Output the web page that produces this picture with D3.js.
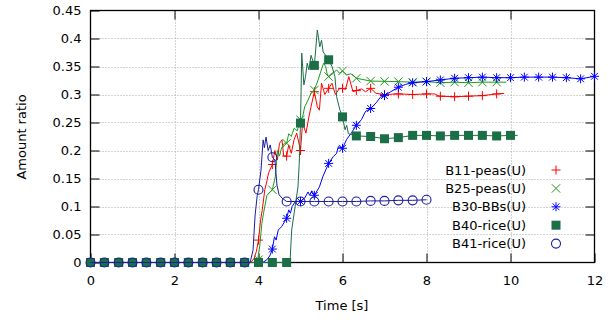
<!DOCTYPE html>
<html><head><meta charset="utf-8">
<script src="https://cdn.jsdelivr.net/npm/d3@7"></script>
<style>body{margin:0;background:#fff}text{font-family:"DejaVu Sans",sans-serif}</style>
</head><body><svg id="c" width="615" height="322"></svg>
<script>
// ---- data ----
const xTicks = [0, 2, 4, 6, 8, 10, 12];
const yTicks = [0, 0.05, 0.1, 0.15, 0.2, 0.25, 0.3, 0.35, 0.4, 0.45];
const seriesNames = ["B11-peas(U)", "B25-peas(U)", "B30-BBs(U)", "B40-rice(U)", "B41-rice(U)"];
const markTimes = [0,0.33,0.67,1,1.33,1.67,2,2.33,2.67,3,3.33,3.67,4,4.33,4.67,5,5.33,5.67,6,6.33,6.67,7,7.33,7.67,8,8.33,8.67,9,9.33,9.67,10,10.33,10.67,11,11.33,11.67,12];

const b11Marks = [0,0,0,0,0,0,0,0,0,0,0,0,0.04,0.175,0.19,0.20,0.305,0.311,0.311,0.307,0.311,0.300,0.301,0.300,0.301,0.297,0.296,0.297,0.298,0.301];
const b25Marks = [0,0,0,0,0,0,0,0,0,0,0,0,0.005,0.13,0.213,0.255,0.308,0.332,0.342,0.329,0.324,0.3235,0.323,0.322,0.323,0.321,0.322,0.321,0.322,0.322];
const b30Marks = [0,0,0,0,0,0,0,0,0,0,0,0,0,0.024,0.079,0.109,0.12,0.177,0.204,0.245,0.275,0.298,0.313,0.321,0.323,0.326,0.329,0.330,0.331,0.330,0.330,0.331,0.331,0.331,0.330,0.328,0.3325];
const b40Marks = [0,0,0,0,0,0,0,0,0,0,0,0,0,0,0,0.249,0.352,0.362,0.26,0.226,0.225,0.221,0.223,0.227,0.227,0.226,0.227,0.227,0.227,0.226,0.227];
const b41Marks = [0,0,0,0,0,0,0,0,0,0,0,0,0.13,0.188,0.109,0.109,0.109,0.109,0.109,0.109,0.110,0.110,0.111,0.111,0.112];

const b11Line = [[0,0],[3.82,0],[3.9,0.008],[3.95,0.02],[4.0,0.04],[4.05,0.076],[4.09,0.094],[4.15,0.13],[4.19,0.142],[4.24,0.16],[4.33,0.175],[4.39,0.2],[4.45,0.183],[4.5,0.213],[4.56,0.219],[4.6,0.19],[4.67,0.19],[4.72,0.21],[4.78,0.195],[4.85,0.22],[4.91,0.231],[5.0,0.2],[5.05,0.249],[5.13,0.231],[5.2,0.26],[5.25,0.278],[5.33,0.305],[5.4,0.278],[5.45,0.272],[5.5,0.32],[5.58,0.30],[5.67,0.311],[5.75,0.32],[5.83,0.30],[5.92,0.31],[6.0,0.311],[6.07,0.309],[6.15,0.332],[6.25,0.305],[6.33,0.307],[6.45,0.31],[6.55,0.305],[6.67,0.311],[6.8,0.302],[7.0,0.300],[7.33,0.301],[7.67,0.300],[8.0,0.301],[8.2,0.301],[8.3,0.297],[8.67,0.296],[9.0,0.297],[9.33,0.298],[9.67,0.301],[9.85,0.302]];
const b25Line = [[0,0],[3.93,0],[3.98,0.005],[4.03,0.03],[4.08,0.07],[4.12,0.088],[4.2,0.12],[4.27,0.125],[4.33,0.13],[4.4,0.153],[4.45,0.2],[4.5,0.19],[4.55,0.205],[4.62,0.213],[4.67,0.213],[4.72,0.23],[4.78,0.225],[4.85,0.24],[4.92,0.235],[5.0,0.255],[5.05,0.26],[5.1,0.278],[5.18,0.29],[5.25,0.302],[5.33,0.308],[5.42,0.326],[5.47,0.338],[5.55,0.356],[5.6,0.35],[5.63,0.338],[5.67,0.332],[5.78,0.338],[5.86,0.344],[5.93,0.338],[6.0,0.342],[6.1,0.335],[6.2,0.337],[6.33,0.329],[6.67,0.324],[7.0,0.3235],[7.33,0.323],[7.67,0.322],[8.0,0.323],[8.33,0.321],[8.67,0.322],[9.0,0.321],[9.33,0.322],[9.67,0.322],[9.9,0.322]];
const b30Line = [[0,0],[4.1,0],[4.2,0.005],[4.27,0.012],[4.33,0.024],[4.38,0.046],[4.42,0.04],[4.47,0.058],[4.55,0.064],[4.67,0.079],[4.72,0.094],[4.76,0.088],[4.8,0.1],[4.88,0.109],[5.0,0.109],[5.1,0.115],[5.18,0.126],[5.22,0.12],[5.27,0.128],[5.33,0.12],[5.45,0.135],[5.53,0.153],[5.67,0.177],[5.78,0.189],[5.86,0.195],[5.9,0.207],[6.0,0.204],[6.1,0.22],[6.2,0.23],[6.33,0.245],[6.45,0.255],[6.55,0.27],[6.67,0.275],[6.8,0.285],[6.9,0.295],[7.0,0.298],[7.15,0.305],[7.33,0.313],[7.5,0.318],[7.67,0.321],[8.0,0.323],[8.33,0.326],[8.67,0.329],[9.0,0.33],[9.33,0.331],[9.67,0.33],[10,0.33],[10.33,0.331],[10.67,0.331],[11,0.331],[11.33,0.33],[11.67,0.328],[12,0.3325]];
const b40Line = [[0,0],[4.75,0],[4.79,0.058],[4.86,0.094],[4.94,0.135],[4.97,0.177],[5.0,0.249],[5.03,0.374],[5.08,0.317],[5.12,0.332],[5.16,0.356],[5.2,0.344],[5.25,0.37],[5.33,0.352],[5.4,0.415],[5.46,0.385],[5.5,0.397],[5.54,0.376],[5.67,0.362],[5.75,0.35],[5.82,0.332],[5.86,0.296],[5.94,0.272],[6.0,0.26],[6.06,0.237],[6.1,0.245],[6.14,0.23],[6.33,0.226],[6.67,0.225],[7,0.221],[7.33,0.223],[7.67,0.227],[8,0.227],[8.33,0.226],[8.67,0.227],[9,0.227],[9.33,0.227],[9.67,0.226],[10,0.227],[10.17,0.227]];
const b41Line = [[0,0],[3.8,0],[3.87,0.022],[3.92,0.085],[3.97,0.12],[4.0,0.13],[4.06,0.165],[4.11,0.219],[4.14,0.205],[4.18,0.224],[4.23,0.2],[4.28,0.21],[4.33,0.188],[4.39,0.183],[4.44,0.138],[4.49,0.121],[4.56,0.115],[4.67,0.109],[5,0.109],[5.33,0.109],[5.67,0.109],[6,0.109],[6.33,0.109],[6.67,0.110],[7,0.110],[7.33,0.111],[7.67,0.111],[8,0.112]];

const seriesColors = ["#ff0000", "#1f9a1f", "#0000ff", "#1c6e47", "#1c1ca0"];
const seriesSymbols = ["plus", "cross", "star", "square", "circle"];
const seriesLines = [b11Line, b25Line, b30Line, b40Line, b41Line];
const seriesMarks = [b11Marks, b25Marks, b30Marks, b40Marks, b41Marks];

// ---- drawing ----
const svg = d3.select("#c");
const L = 90.5, R = 594.5, T = 10.5, B = 262.5;
const x = d3.scaleLinear().domain([0, 12]).range([L, R]);
const y = d3.scaleLinear().domain([0, 0.45]).range([B, T]);
const fmt = d => String(+d.toFixed(2));

// grid
const grid = svg.append("g").attr("stroke", "#a8a8a8").attr("stroke-width", 1).attr("stroke-dasharray", "1,2");
grid.selectAll(".gx").data(xTicks.slice(1, -1)).join("line")
  .attr("x1", d => Math.round(x(d)) + 0.5).attr("x2", d => Math.round(x(d)) + 0.5).attr("y1", T).attr("y2", B);
grid.selectAll(".gy").data(yTicks.slice(1, -1)).join("line")
  .attr("y1", d => Math.round(y(d)) + 0.5).attr("y2", d => Math.round(y(d)) + 0.5).attr("x1", L).attr("x2", R);

function styleAxis(g) {
  g.select(".domain").remove();
  g.selectAll(".tick line").attr("stroke", "#000").attr("stroke-width", 1);
  g.selectAll("text").attr("font-size", 13).attr("fill", "#000").attr("font-family", "DejaVu Sans");
}
svg.append("g").attr("transform", `translate(${L},0)`)
  .call(d3.axisLeft(y).tickValues(yTicks).tickFormat(fmt).tickSizeInner(-9).tickSizeOuter(0).tickPadding(9)).call(styleAxis);
svg.append("g").attr("transform", `translate(${R},0)`)
  .call(d3.axisRight(y).tickValues(yTicks.slice(1, -1)).tickFormat("").tickSizeInner(-9).tickSizeOuter(0)).call(styleAxis);
svg.append("g").attr("transform", `translate(0,${B})`)
  .call(d3.axisBottom(x).tickValues(xTicks).tickFormat(fmt).tickSizeInner(-9).tickSizeOuter(0).tickPadding(13)).call(styleAxis);
svg.append("g").attr("transform", `translate(0,${T})`)
  .call(d3.axisTop(x).tickValues(xTicks.slice(1, -1)).tickFormat("").tickSizeInner(-9).tickSizeOuter(0)).call(styleAxis);

svg.append("rect").attr("x", L).attr("y", T).attr("width", R - L).attr("height", B - T)
  .attr("fill", "none").attr("stroke", "#000").attr("stroke-width", 1.3);

// axis titles
svg.append("text").attr("transform", `translate(25.5,137) rotate(-90)`).attr("text-anchor", "middle")
  .attr("font-size", 13).text("Amount ratio");
svg.append("text").attr("x", 342).attr("y", 310).attr("text-anchor", "middle").attr("font-size", 13).text("Time [s]");

// symbols
function drawSymbol(g, type, cx, cy, color) {
  const s = 4.5;
  if (type === "plus" || type === "star") {
    g.append("path").attr("d", `M${cx - s},${cy}H${cx + s}M${cx},${cy - s}V${cy + s}`).attr("stroke", color).attr("fill", "none");
  }
  if (type === "cross" || type === "star") {
    const c = type === "star" ? 3.4 : 4.2;
    g.append("path").attr("d", `M${cx - c},${cy - c}L${cx + c},${cy + c}M${cx - c},${cy + c}L${cx + c},${cy - c}`).attr("stroke", color).attr("fill", "none");
  }
  if (type === "square") {
    g.append("rect").attr("x", cx - 4.5).attr("y", cy - 4.5).attr("width", 9).attr("height", 9).attr("fill", color);
  }
  if (type === "circle") {
    g.append("circle").attr("cx", cx).attr("cy", cy).attr("r", 4.5).attr("fill", "none").attr("stroke", color).attr("stroke-width", 1.1);
  }
}

const line = d3.line().x(d => x(d[0])).y(d => y(d[1]));
seriesNames.forEach((name, i) => {
  const g = svg.append("g");
  g.append("path").datum(seriesLines[i]).attr("d", line).attr("fill", "none")
    .attr("stroke", seriesColors[i]).attr("stroke-width", 1).attr("stroke-linejoin", "round");
  seriesMarks[i].forEach((v, k) => drawSymbol(g, seriesSymbols[i], x(markTimes[k]), y(v), seriesColors[i]));
});

// legend
seriesNames.forEach((name, i) => {
  const by = 174.5 + i * 18.4;
  svg.append("text").attr("x", 526).attr("y", by).attr("text-anchor", "end").attr("font-size", 13).text(name);
  drawSymbol(svg.append("g"), seriesSymbols[i], 556, by - 4.5, seriesColors[i]);
});
</script></body></html>
